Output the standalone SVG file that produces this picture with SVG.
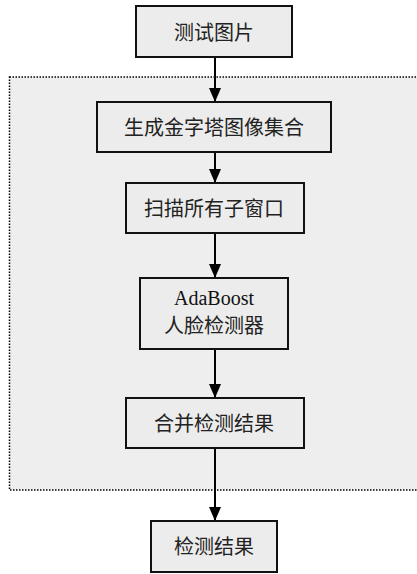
<svg xmlns="http://www.w3.org/2000/svg" width="417" height="574" viewBox="0 0 417 574">
<defs>
<style>
.box{fill:#ececec;stroke:#111;stroke-width:2}
.t{font-family:"Noto Sans CJK SC","Liberation Serif",serif;font-size:20px;fill:#222;text-anchor:middle}
.e{font-family:"Liberation Serif",serif;font-size:20px;fill:#111;text-anchor:middle}
.c{stroke:#000;stroke-width:2;fill:none}
</style>
<marker id="ah" markerWidth="14" markerHeight="12" refX="14" refY="6" orient="auto" markerUnits="userSpaceOnUse">
<path d="M0,0 L14,6 L0,12 Z" fill="#000"/>
</marker>
</defs>
<rect x="0" y="0" width="417" height="574" fill="#fff"/>
<g id="region">
<rect x="9.5" y="77" width="420" height="413" fill="#eeeeee" stroke="#000" stroke-width="1.5" stroke-dasharray="1.5 1.5"/>
</g>
<g id="connectors">
<line class="c" x1="215" y1="57" x2="215" y2="102" marker-end="url(#ah)"/>
<line class="c" x1="215" y1="153" x2="215" y2="183" marker-end="url(#ah)"/>
<line class="c" x1="215" y1="233" x2="215" y2="278" marker-end="url(#ah)"/>
<line class="c" x1="215" y1="349" x2="215" y2="398" marker-end="url(#ah)"/>
<line class="c" x1="215" y1="448" x2="215" y2="521" marker-end="url(#ah)"/>
</g>
<g id="n1"><rect class="box" x="136" y="6" width="156" height="51"/><text class="t" x="214" y="40">测试图片</text></g>
<g id="n2"><rect class="box" x="97" y="102" width="234" height="50"/><text class="t" x="214" y="135">生成金字塔图像集合</text></g>
<g id="n3"><rect class="box" x="126" y="183" width="178" height="50"/><text class="t" x="214" y="216">扫描所有子窗口</text></g>
<g id="n4"><rect class="box" x="140" y="278" width="148" height="71"/><text class="e" x="214" y="305">AdaBoost</text><text class="t" x="214" y="333">人脸检测器</text></g>
<g id="n5"><rect class="box" x="126" y="398" width="178" height="50"/><text class="t" x="214" y="431">合并检测结果</text></g>
<g id="n6"><rect class="box" x="151" y="521" width="126" height="51"/><text class="t" x="214" y="554">检测结果</text></g>
</svg>
